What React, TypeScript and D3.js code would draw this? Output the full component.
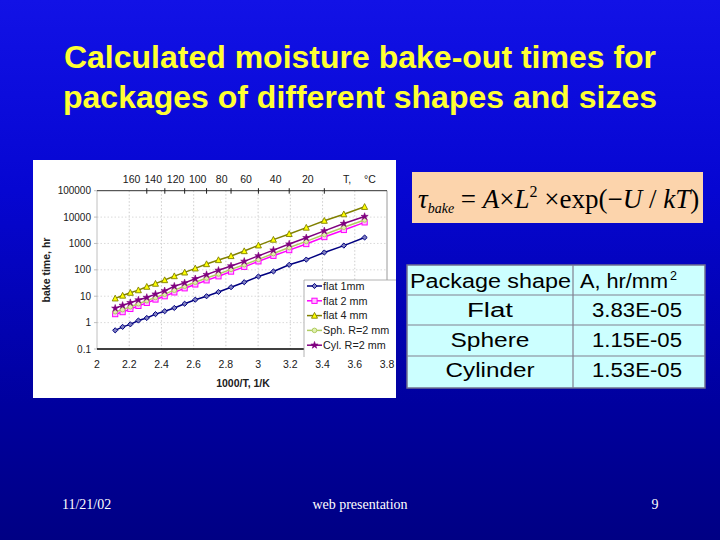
import React from "react";
import * as d3 from "d3";

const xValues = [2.113, 2.159, 2.207, 2.257, 2.309, 2.363, 2.420, 2.480, 2.544, 2.610, 2.680, 2.754, 2.832, 2.914, 3.002, 3.095, 3.193, 3.299, 3.411, 3.532, 3.661];
const flat1 = [0.51, 0.69, 0.86, 1.2, 1.5, 2.1, 2.7, 3.6, 5.2, 7.4, 10, 14.5, 22, 34, 56, 87, 155, 245, 455, 830, 1680];
const flat2 = [2.1, 2.5, 3.3, 4.3, 5.6, 7.5, 10, 14, 20, 28, 40, 57, 86, 130, 210, 340, 560, 950, 1750, 3250, 6300];
const flat4 = [8.3, 10.6, 13.6, 17, 23, 30, 41, 58, 80, 114, 166, 236, 335, 515, 850, 1400, 2300, 4000, 7300, 12900, 24500];
const sph2 = [2.6, 3.1, 4.0, 5.2, 6.8, 9.0, 12, 17, 24, 34, 49, 70, 104, 157, 250, 415, 700, 1200, 2200, 4100, 7800];
const cyl2 = [3.5, 4.5, 5.7, 7.2, 9.0, 12, 16, 24, 32, 46, 66, 96, 140, 210, 340, 560, 950, 1650, 3000, 5700, 10500];

const seriesNames = ["flat 1mm", "flat 2 mm", "flat 4 mm", "Sph. R=2 mm", "Cyl. R=2 mm"];
const seriesValues = [flat1, flat2, flat4, sph2, cyl2];
const seriesLine = ["#000080", "#ff00ff", "#808000", "#b0cc60", "#800080"];
const seriesMarkerFill = ["#8080c0", "#ffc0ff", "#ffff00", "#e0f0b0", "#800080"];
const seriesMarker = ["diamond", "square", "triangle", "circle", "star"];

const xTicks = [2, 2.2, 2.4, 2.6, 2.8, 3, 3.2, 3.4, 3.6, 3.8];
const yTicks = [0.1, 1, 10, 100, 1000, 10000, 100000];
const yTickLabels = ["0.1", "1", "10", "100", "1000", "10000", "100000"];
const tempLabels = ["160", "140", "120", "100", "80", "60", "40", "20"];
const tempTickX = [2.309, 2.421, 2.544, 2.680, 2.832, 3.002, 3.193, 3.411];
const tempLabelX = [2.215, 2.349, 2.488, 2.625, 2.774, 2.925, 3.109, 3.308];

const tableHeader = ["Package shape", "A, hr/mm"];
const tableShapes = ["Flat", "Sphere", "Cylinder"];
const tableA = ["3.83E-05", "1.15E-05", "1.53E-05"];

const titleLines = ["Calculated moisture bake-out times for", "packages of different shapes and sizes"];

function Marker({ type, x, y, fill, stroke }: { type: string; x: number; y: number; fill: string; stroke: string }) {
  const s = 2.6;
  if (type === "diamond")
    return <path d={`M${x},${y - s}L${x + s},${y}L${x},${y + s}L${x - s},${y}Z`} fill={fill} stroke={stroke} strokeWidth={1} />;
  if (type === "square")
    return <rect x={x - s} y={y - s} width={2 * s} height={2 * s} fill={fill} stroke={stroke} strokeWidth={1} />;
  if (type === "triangle")
    return <path d={`M${x},${y - s - 0.6}L${x + s + 0.4},${y + s}L${x - s - 0.4},${y + s}Z`} fill={fill} stroke={stroke} strokeWidth={0.9} />;
  if (type === "circle") return <circle cx={x} cy={y} r={s - 0.3} fill={fill} stroke={stroke} strokeWidth={1} />;
  return <path d={d3.symbol(d3.symbolStar, 16)() as string} transform={`translate(${x},${y})`} fill={fill} stroke={stroke} strokeWidth={0.6} />;
}

export default function App() {
  const x = d3.scaleLinear().domain([2, 3.8]).range([97, 387]);
  const y = d3.scaleLog().domain([0.1, 100000]).range([349, 190.7]);
  const line = d3
    .line<[number, number]>()
    .x((d) => x(d[0]))
    .y((d) => y(d[1]));

  const plotL = x(2), plotR = x(3.8), plotT = y(100000), plotB = y(0.1);
  const legX = 304, legY = 280;
  const serif = "'Liberation Serif', 'Times New Roman', serif";

  return (
    <svg width={720} height={540} style={{ position: "absolute", left: 0, top: 0 }} fontFamily="'Liberation Sans', Arial, sans-serif">
      <defs>
        <linearGradient id="bg" x1="0" y1="0" x2="0" y2="1">
          <stop offset="0" stopColor="#1212e6" />
          <stop offset="0.35" stopColor="#0606d2" />
          <stop offset="0.75" stopColor="#00009e" />
          <stop offset="1" stopColor="#000084" />
        </linearGradient>
      </defs>
      <rect x={0} y={0} width={720} height={540} fill="url(#bg)" />

      {titleLines.map((t, i) => (
        <text key={i} x={360} y={68 + i * 40} textAnchor="middle" fill="#ffff33" fontSize={32} fontWeight="bold">
          {t}
        </text>
      ))}

      {/* chart panel */}
      <rect x={33} y={160} width={363} height={238} fill="#ffffff" />
      {xTicks.slice(1, -1).map((t) => (
        <line key={"gx" + t} x1={x(t)} x2={x(t)} y1={plotT} y2={plotB} stroke="#c0c0c0" strokeWidth={0.8} strokeDasharray="1.5,2" />
      ))}
      {yTicks.slice(1, -1).map((t) => (
        <line key={"gy" + t} x1={plotL} x2={plotR} y1={y(t)} y2={y(t)} stroke="#d0d0d0" strokeWidth={0.8} strokeDasharray="1.5,2" />
      ))}
      <line x1={plotL} x2={plotL} y1={plotT} y2={plotB} stroke="#b0b0b0" strokeWidth={0.8} />
      <line x1={plotR} x2={plotR} y1={plotT} y2={plotB} stroke="#808080" strokeWidth={0.8} />
      {yTicks.map((t) => (
        <line key={"yt" + t} x1={plotL - 3} x2={plotL} y1={y(t)} y2={y(t)} stroke="#b0b0b0" strokeWidth={0.8} />
      ))}
      {/* top temperature axis */}
      <line x1={plotL} x2={plotR} y1={plotT} y2={plotT} stroke="#303030" strokeWidth={1} />
      {tempTickX.map((t, i) => (
        <g key={"tt" + i}>
          <line x1={x(t)} x2={x(t)} y1={plotT - 2.5} y2={plotT + 3} stroke="#202020" strokeWidth={1} />
          <text x={x(tempLabelX[i])} y={183} textAnchor="middle" fontSize={10.5} fill="#202020">
            {tempLabels[i]}
          </text>
        </g>
      ))}
      <text x={347} y={183} textAnchor="middle" fontSize={10.5} fill="#202020">T,</text>
      <text x={370} y={183} textAnchor="middle" fontSize={10.5} fill="#202020">°C</text>

      {/* series */}
      {seriesValues.map((vals, si) => {
        const pts: [number, number][] = vals.map((v, i) => [xValues[i], v]);
        return (
          <g key={"s" + si}>
            <path d={line(pts) as string} fill="none" stroke={seriesLine[si]} strokeWidth={1.5} />
            {pts.map((p, i) => (
              <Marker key={i} type={seriesMarker[si]} x={x(p[0])} y={y(p[1])} fill={seriesMarkerFill[si]} stroke={seriesLine[si]} />
            ))}
          </g>
        );
      })}

      {/* bottom axis */}
      <line x1={plotL} x2={plotR} y1={plotB} y2={plotB} stroke="#000000" strokeWidth={1.5} />
      {xTicks.map((t) => (
        <text key={"xl" + t} x={x(t)} y={368} textAnchor="middle" fontSize={10.5} fill="#202020">
          {String(t)}
        </text>
      ))}
      {yTicks.map((t, i) => (
        <text key={"yl" + t} x={91} y={y(t) + 3.5} textAnchor="end" fontSize={10} fill="#202020">
          {yTickLabels[i]}
        </text>
      ))}
      <text x={243} y={387} textAnchor="middle" fontSize={10.5} fontWeight="bold" fill="#202020">1000/T, 1/K</text>
      <text transform="translate(50,270) rotate(-90)" textAnchor="middle" fontSize={10.5} fontWeight="bold" fill="#202020">bake time, hr</text>

      {/* legend */}
      <rect x={legX} y={legY} width={92} height={77} fill="#ffffff" />
      <line x1={legX} x2={legX} y1={legY} y2={legY + 77} stroke="#a0a0a0" strokeWidth={0.8} />
      <line x1={legX} x2={396} y1={legY} y2={legY} stroke="#a0a0a0" strokeWidth={0.8} />
      {seriesNames.map((n, i) => {
        const ly = 286 + i * 14.8;
        return (
          <g key={"lg" + i}>
            <line x1={307} x2={322} y1={ly} y2={ly} stroke={seriesLine[i]} strokeWidth={1.5} />
            <Marker type={seriesMarker[i]} x={314.5} y={ly} fill={seriesMarkerFill[i]} stroke={seriesLine[i]} />
            <text x={323} y={ly + 3.8} fontSize={10.8} fill="#202020">{n}</text>
          </g>
        );
      })}

      {/* formula */}
      <rect x={412} y={172} width={291} height={51} fill="#fcd4ac" />
      <text x={418} y={208} fontFamily={serif} fontSize={27} fill="#000000">
        <tspan fontStyle="italic">τ</tspan>
        <tspan fontStyle="italic" fontSize={14} dy={5}>bake</tspan>
        <tspan dy={-5}> = </tspan>
        <tspan fontStyle="italic">A</tspan>
        <tspan>×</tspan>
        <tspan fontStyle="italic">L</tspan>
        <tspan fontSize={16} dy={-11}>2</tspan>
        <tspan dy={11}> ×exp(−</tspan>
        <tspan fontStyle="italic">U</tspan>
        <tspan> / </tspan>
        <tspan fontStyle="italic">kT</tspan>
        <tspan>)</tspan>
      </text>

      {/* table */}
      <rect x={407} y={265} width={298} height={123} fill="#ccffff" stroke="#707090" strokeWidth={1.5} />
      {[295, 325, 356].map((ry) => (
        <line key={"r" + ry} x1={407} x2={705} y1={ry} y2={ry} stroke="#808090" strokeWidth={1.2} />
      ))}
      <line x1={573} x2={573} y1={265} y2={388} stroke="#808090" strokeWidth={1.2} />
      <text x={410} y={288} fontSize={19.5} fill="#000000" textLength={161} lengthAdjust="spacingAndGlyphs">{tableHeader[0]}</text>
      <text x={580} y={288} fontSize={19.5} fill="#000000" textLength={88} lengthAdjust="spacingAndGlyphs">{tableHeader[1]}</text>
      <text x={670} y={280} fontSize={12.5} fill="#000000">2</text>
      {tableShapes.map((s, i) => (
        <g key={"tr" + i}>
          <text x={490} y={317 + i * 30} textAnchor="middle" fontSize={19.5} fill="#000000" textLength={[46, 79, 89][i]} lengthAdjust="spacingAndGlyphs">{s}</text>
          <text x={637} y={317 + i * 30} textAnchor="middle" fontSize={19.5} fill="#000000" textLength={90} lengthAdjust="spacingAndGlyphs">{tableA[i]}</text>
        </g>
      ))}

      {/* footer */}
      <g fontFamily={serif} fontSize={14} fill="#ffffff">
        <text x={62} y={509}>11/21/02</text>
        <text x={360} y={509} textAnchor="middle">web presentation</text>
        <text x={655} y={509} textAnchor="middle">9</text>
      </g>
    </svg>
  );
}
